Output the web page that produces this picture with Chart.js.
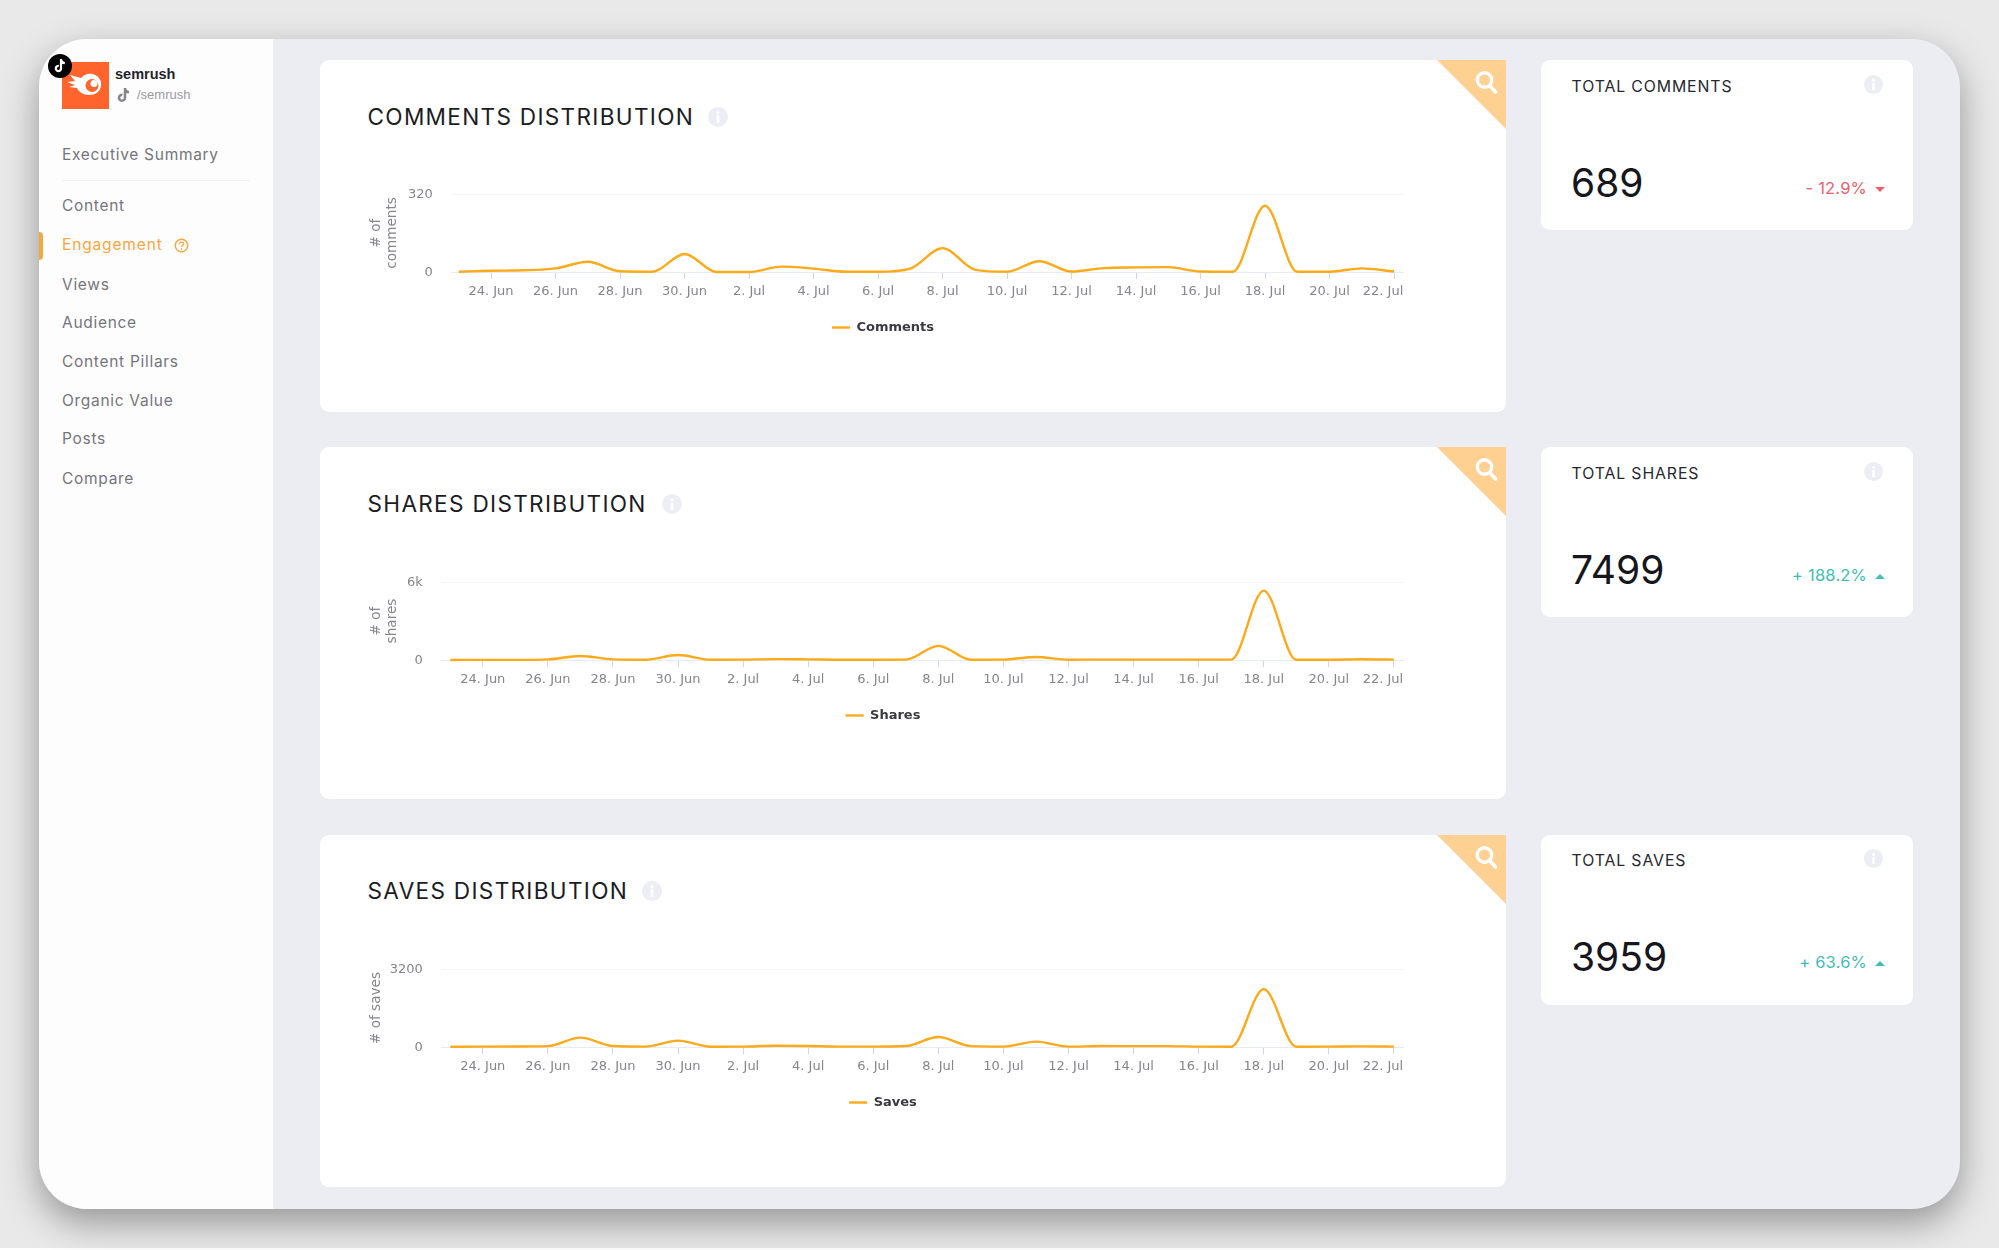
<!DOCTYPE html>
<html><head><meta charset="utf-8">
<script src="https://cdn.jsdelivr.net/npm/chart.js@4"></script>
<style>
*{box-sizing:border-box;margin:0;padding:0}
html,body{width:1999px;height:1250px;background:#fff;overflow:hidden;font-family:Inter,sans-serif}
.abs{position:absolute;white-space:nowrap}
#bg{position:absolute;left:0;top:0;width:1999px;height:1248px;background:#e9e9e9;overflow:hidden}
#win{position:absolute;left:39px;top:39px;width:1921px;height:1170px;border-radius:48px;background:#ecedf3;box-shadow:0 14px 36px rgba(0,0,0,.36)}
#side{position:absolute;left:39px;top:39px;width:234px;height:1170px;background:#fdfdfd;border-radius:48px 0 0 48px}
.nav{position:absolute;left:62px;font-size:15.5px;line-height:20px;color:#75757b;letter-spacing:.7px;white-space:nowrap}
.card{position:absolute;background:#fff;border-radius:9px;left:320px;width:1186px;height:352px;overflow:hidden}
.stat{position:absolute;background:#fff;border-radius:9px;left:1541px;width:372px;height:170px}
.h{position:absolute;left:367.5px;font-size:22.6px;line-height:30px;color:#1c1c24;white-space:nowrap;letter-spacing:1.3px}
.st{position:absolute;left:1571.5px;font-size:15.8px;line-height:20px;color:#27272e;white-space:nowrap;letter-spacing:.9px}
.num{position:absolute;left:1571px;font-size:39px;line-height:46px;color:#16161d;white-space:nowrap}
.delta{position:absolute;right:132px;font-size:16.5px;line-height:20px;white-space:nowrap;letter-spacing:.2px}
canvas{position:absolute;left:362px}
svg{position:absolute;overflow:visible}
</style></head><body>
<div id="bg"></div><div id="win"></div><div id="side"></div>
<div id="chrome"></div>
<script>
// ---- chart data ----
const dayLabels = ["23. Jun","24. Jun","25. Jun","26. Jun","27. Jun","28. Jun","29. Jun","30. Jun","1. Jul","2. Jul","3. Jul","4. Jul","5. Jul","6. Jul","7. Jul","8. Jul","9. Jul","10. Jul","11. Jul","12. Jul","13. Jul","14. Jul","15. Jul","16. Jul","17. Jul","18. Jul","19. Jul","20. Jul","21. Jul","22. Jul"];
const tickDays = [1,3,5,7,9,11,13,15,17,19,21,23,25,27,29];
const comments = [1,5,7,15,42,3,1,74,0,0,22,14,1,1,14,98,10,1,44,2,16,19,20,2,1,272,1,1,15,2];
const shares = [5,10,10,50,310,50,20,390,20,30,70,50,20,20,30,1085,20,30,230,25,30,30,30,30,30,5340,20,20,60,30];
const saves = [5,15,20,35,385,40,15,260,10,15,50,40,15,15,40,410,35,15,220,15,40,35,35,15,10,2370,10,15,25,15];
const commentsTicks = [0,320];
const sharesTicks = [0,6000];
const savesTicks = [0,3200];
const navItems = ["Executive Summary","Content","Engagement","Views","Audience","Content Pillars","Organic Value","Posts","Compare"];
const navY = [155,206,245,285,323,362,401,439,479];
const sections = [
 {title:"COMMENTS DISTRIBUTION", stat:"TOTAL COMMENTS", total:"689", delta:"- 12.9%", up:false, top:60, info:718},
 {title:"SHARES DISTRIBUTION", stat:"TOTAL SHARES", total:"7499", delta:"+ 188.2%", up:true, top:447, info:672},
 {title:"SAVES DISTRIBUTION", stat:"TOTAL SAVES", total:"3959", delta:"+ 63.6%", up:true, top:835, info:651.5}
];
const ORANGE = "#fca91a";

// ---- page chrome ----
const chrome = document.getElementById('chrome');
let html = '';
navItems.forEach((t,i)=>{
  const active = t==="Engagement";
  html += `<div class="nav" style="top:${navY[i]-10}px;${active?'color:#f9a63c;letter-spacing:.85px':''}">${t}</div>`;
});
html += `<div class="abs" style="left:62px;top:180px;width:188px;height:1px;background:#f1f1f3"></div>`;
html += `<div class="abs" style="left:39px;top:232px;width:4px;height:28px;background:#f1aa3c;border-radius:0 4px 4px 0"></div>`;
html += `<svg style="left:174px;top:238px" width="15" height="15" viewBox="0 0 15 15"><circle cx="7.5" cy="7.5" r="6.2" fill="none" stroke="#f9a63c" stroke-width="1.4"/><path d="M5.4 6c0-2.6 4.2-2.6 4.2-.1 0 1.5-2.1 1.5-2.1 3" fill="none" stroke="#f9a63c" stroke-width="1.3"/><circle cx="7.5" cy="10.9" r=".8" fill="#f9a63c"/></svg>`;
// logo
html += `<svg style="left:62px;top:62px" width="47" height="47" viewBox="0 0 47 47"><rect width="47" height="47" fill="#ff642d"/><path d="M8 13l11 3c3-4 8-5 12-4 6 2 9 7 8 12-1 6-6 9-12 9-6 0-10-3-12-7l-8-1 6-2-8-3 8-1z" fill="#fff"/><circle cx="30" cy="23.5" r="6.5" fill="#ff642d"/><circle cx="32" cy="21.5" r="3.5" fill="#fff"/></svg>`;
html += `<svg style="left:47.5px;top:54px" width="24" height="24" viewBox="0 0 24 24"><circle cx="12" cy="12" r="12" fill="#000"/><path d="M13 5v9.5a2.6 2.6 0 1 1-2.2-2.6M13 5.5c.3 2.2 1.8 3.6 3.8 3.7" fill="none" stroke="#fff" stroke-width="2.2"/></svg>`;
html += `<div class="abs" style="left:115px;top:65px;font:600 14.5px/18px 'Liberation Sans',sans-serif;color:#23232b">semrush</div>`;
html += `<svg style="left:117px;top:87px" width="14" height="16" viewBox="0 0 14 16"><path d="M8 1v9.8a3 3 0 1 1-2.6-3M8 1.5c.3 2.4 1.8 3.6 4 3.8" fill="none" stroke="#85858b" stroke-width="2.5"/></svg>`;
html += `<div class="abs" style="left:137px;top:86px;font:400 13px/18px 'Liberation Sans',sans-serif;color:#9a9aa0">/semrush</div>`;
const info = (cx,cy,r)=>`<svg style="left:${cx-r}px;top:${cy-r}px" width="${2*r}" height="${2*r}" viewBox="0 0 20 20"><circle cx="10" cy="10" r="10" fill="#ebeef4"/><rect x="8.6" y="8.5" width="2.8" height="7.5" fill="#fff"/><circle cx="10" cy="5.6" r="1.7" fill="#fff"/></svg>`;
sections.forEach((s,k)=>{
  const d = k===2?-1:0;
  html += `<div class="card" style="top:${s.top}px"></div>`;
  html += `<svg style="left:1437px;top:${s.top}px" width="69" height="69" viewBox="0 0 69 69"><path d="M0 0H69V69Z" fill="#fed193"/><circle cx="47.5" cy="20" r="7.2" fill="none" stroke="#fff" stroke-width="3.4"/><path d="M53 26l5.5 6" stroke="#fff" stroke-width="3.6" stroke-linecap="round"/></svg>`;
  html += `<div class="h" style="top:${s.top+41.5+d}px">${s.title}</div>`;
  html += info(s.info,s.top+57+d,10);
  html += `<div class="stat" style="top:${s.top}px"></div>`;
  html += `<div class="st" style="top:${s.top+17+d}px">${s.stat}</div>`;
  html += info(1873,s.top+24.5+d,9.5);
  html += `<div class="num" style="top:${s.top+100+d}px">${s.total}</div>`;
  const col = s.up?'#41bdb4':'#e9606a';
  html += `<div class="delta" style="top:${s.top+118+d}px;color:${col}">${s.delta}</div>`;
  const tri = s.up?'M0 5L5 0L10 5Z':'M0 0L10 0L5 5Z';
  html += `<svg style="left:1875px;top:${s.top+127+d}px" width="10" height="5" viewBox="0 0 10 5"><path d="${tri}" fill="${col}"/></svg>`;
});
chrome.innerHTML = html;

// ---- charts ----
const shiftLastLabel = {id:'shiftLast',beforeDraw(chart){
  const sc = chart.scales.x, items = sc.getLabelItems(chart.chartArea);
  const last = items[items.length-1];
  if(last) last.options.translation[0] = sc.getPixelForValue(tickDays[tickDays.length-1]) - 11;
}};
const noPad = a=>{a.paddingLeft=a.paddingRight=a.paddingTop=a.paddingBottom=0;};
function makeChart(top,label,values,yTicks,yFmt,yTitle,yWidth,xMin,xMax){
  const c = document.createElement('canvas');
  c.width = 1042; c.height = 160;
  c.style.top = top+'px'; c.style.width='1042px'; c.style.height='160px';
  document.body.appendChild(c);
  return new Chart(c,{
    type:'line',
    data:{datasets:[{label,data:values.map((v,i)=>({x:i,y:v})),borderColor:ORANGE,backgroundColor:ORANGE,borderWidth:2.4,
      cubicInterpolationMode:'monotone',pointRadius:0,pointHoverRadius:3,clip:false}]},
    options:{
      responsive:false,animation:false,devicePixelRatio:1,
      layout:{autoPadding:false,padding:{top:10,left:0,right:0,bottom:0}},
      plugins:{
        tooltip:{enabled:false},
        legend:{position:'bottom',align:'center',
          labels:{usePointStyle:true,pointStyle:'line',pointStyleWidth:18,boxHeight:3,padding:18,color:'#3a3a40',
            font:{family:'"DejaVu Sans"',size:13,weight:'bold'}}}
      },
      scales:{
        x:{type:'linear',min:xMin,max:xMax,
          afterBuildTicks(a){a.ticks=tickDays.map(v=>({value:v}));},
          afterFit(a){a.height=31;noPad(a);},
          border:{display:true,color:'#e6ebf5',width:1},
          grid:{drawOnChartArea:false,drawTicks:true,tickLength:7,tickColor:'#ccd6eb',tickWidth:1},
          ticks:{autoSkip:false,maxRotation:0,minRotation:0,padding:5,color:'#85858a',
            font:{family:'"DejaVu Sans"',size:13},callback:v=>dayLabels[v]}
        },
        y:{min:yTicks[0],max:yTicks[yTicks.length-1],
          afterBuildTicks(a){a.ticks=yTicks.map(v=>({value:v}));},
          afterFit(a){a.width=yWidth;noPad(a);},
          border:{display:false},
          grid:{drawTicks:false,color:'#f4f5f7',lineWidth:1},
          ticks:{padding:19,labelOffset:1,color:'#85858a',font:{family:'"DejaVu Sans"',size:13},callback:yFmt},
          title:{display:true,text:yTitle,color:'#85858a',font:{family:'"DejaVu Sans"',size:13.6,lineHeight:1.22},padding:{top:6,bottom:0}}
        }
      }
    },
    plugins:[shiftLastLabel]
  });
}
makeChart(184,"Comments",comments,commentsTicks,v=>String(v),["# of","comments"],89.7,-0.22,29.31);
makeChart(572,"Shares",shares,sharesTicks,v=>v===0?"0":(v/1000)+"k",["# of","shares"],79.8,-0.26,29.31);
makeChart(959,"Saves",saves,savesTicks,v=>String(v),"# of saves",79.8,-0.26,29.31);
</script>
</body></html>
